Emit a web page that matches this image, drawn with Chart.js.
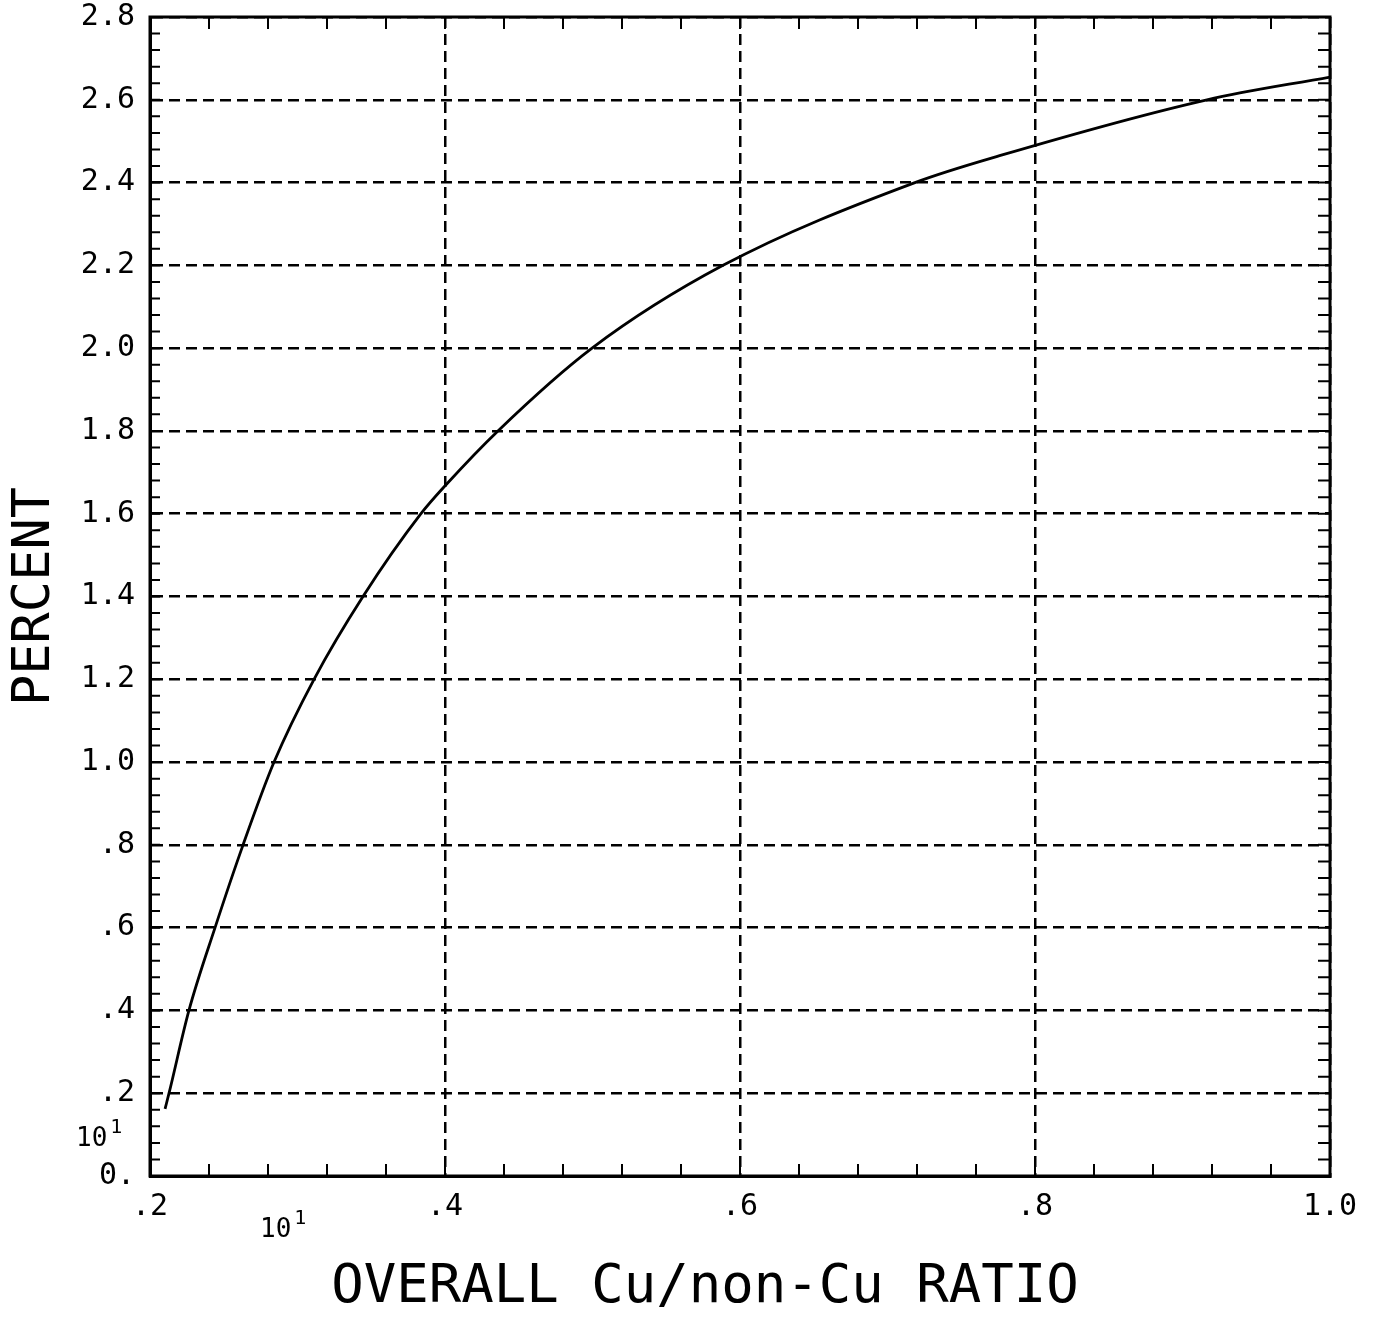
<!DOCTYPE html>
<html>
<head>
<meta charset="utf-8">
<title>Percent vs overall Cu/non-Cu ratio</title>
<script src="https://cdn.jsdelivr.net/npm/chart.js@4.4.1/dist/chart.umd.min.js"></script>
<style>
    html, body { margin: 0; padding: 0; background: #fff; }
    #wrap { width: 1374px; height: 1319px; position: relative; }
</style>
</head>
<body>
<div id="wrap"><canvas id="chart"></canvas></div>
<script>
// Curve (x in units of 10^1, y in percent)
const ratioValues   = [0.2102, 0.2129, 0.2264, 0.2441, 0.2631, 0.2841, 0.3112, 0.3444, 0.3837, 0.4007, 0.4359, 0.4997, 0.5885, 0.7186, 0.776, 0.9166, 1.0];
const percentValues = [0.162,  0.20,   0.40,   0.60,   0.80,   1.00,   1.20,   1.40,   1.60,   1.670,  1.80,   2.00,   2.20,   2.40,   2.465, 2.60,   2.655];

const xMin = 0.2, xMax = 1.0, xStep = 0.2, xMinorStep = 0.04;
const yMin = 0, yMax = 2.8, yStep = 0.2, yMinorStep = 0.04;

const xTitle = 'OVERALL Cu/non-Cu RATIO';
const yTitle = 'PERCENT';
const exponentBase = '10';
const exponentPower = '1';

const monoFont = '"DejaVu Sans Mono", "Liberation Mono", monospace';

// Plotter style labels: drop the leading zero, keep "0." for zero
const plotterLabel = (v) => {
    const s = Number(v).toFixed(1);
    if (s === '0.0') return '0.';
    return s.startsWith('0.') ? s.slice(1) : s;
};

// Frame, minor ticks, x title and the 10^1 multipliers
const plotterDecor = {
    id: 'plotterDecor',
    afterDraw(chart) {
        const ctx = chart.ctx;
        const area = chart.chartArea;
        const xs = chart.scales.x;
        const ys = chart.scales.y;
        ctx.save();
        ctx.strokeStyle = '#000';
        ctx.lineWidth = 3;
        ctx.strokeRect(area.left, area.top, area.right - area.left, area.bottom - area.top);

        ctx.lineWidth = 2;
        ctx.beginPath();
        for (let v = xMin; v <= xMax + 1e-9; v += xMinorStep) {
            const px = xs.getPixelForValue(v);
            ctx.moveTo(px, area.bottom);
            ctx.lineTo(px, area.bottom - 12);
            ctx.moveTo(px, area.top);
            ctx.lineTo(px, area.top + 12);
        }
        for (let v = yMin; v <= yMax + 1e-9; v += yMinorStep) {
            const py = ys.getPixelForValue(v);
            ctx.moveTo(area.left, py);
            ctx.lineTo(area.left + 10, py);
            ctx.moveTo(area.right, py);
            ctx.lineTo(area.right - 12, py);
        }
        ctx.stroke();

        ctx.fillStyle = '#000';
        ctx.textAlign = 'center';
        ctx.textBaseline = 'middle';
        ctx.font = '54px ' + monoFont;
        ctx.fillText(xTitle, 705, 1288);

        // 10^1 near the y axis and below the x axis
        const drawPower = (x, y) => {
            ctx.textAlign = 'left';
            ctx.textBaseline = 'alphabetic';
            ctx.font = '26px ' + monoFont;
            ctx.fillText(exponentBase, x, y);
            const w = ctx.measureText(exponentBase).width;
            ctx.font = '20px ' + monoFont;
            ctx.fillText(exponentPower, x + w + 3, y - 13);
        };
        drawPower(76, 1146);
        drawPower(260, 1237);
        ctx.restore();
    }
};

const ctx = document.getElementById('chart').getContext('2d');
new Chart(ctx, {
    type: 'line',
    data: {
        datasets: [{
            label: 'Percent',
            data: ratioValues.map((x, i) => ({ x: x, y: percentValues[i] })),
            borderColor: '#000',
            borderWidth: 2.8,
            pointRadius: 0,
            fill: false,
            cubicInterpolationMode: 'monotone'
        }]
    },
    options: {
        responsive: true,
        maintainAspectRatio: false,
        animation: false,
        layout: { padding: { top: 17, right: 44, left: 0, bottom: 0 } },
        plugins: {
            legend: { display: false },
            tooltip: { enabled: false }
        },
        scales: {
            x: {
                type: 'linear',
                min: xMin,
                max: xMax,
                afterFit: (scale) => {
                    scale.height = 143;
                    scale.paddingLeft = 0;
                    scale.paddingRight = 0;
                },
                ticks: {
                    stepSize: xStep,
                    color: '#000',
                    padding: 13,
                    maxRotation: 0,
                    font: { family: monoFont, size: 30 },
                    callback: (v) => plotterLabel(v)
                },
                grid: { color: '#000', lineWidth: 2.5, drawTicks: false },
                border: { color: '#000', width: 3, dash: [11, 6] }
            },
            y: {
                type: 'linear',
                min: yMin,
                max: yMax,
                afterFit: (scale) => {
                    scale.width = 150;
                    scale.paddingTop = 0;
                    scale.paddingBottom = 0;
                },
                ticks: {
                    stepSize: yStep,
                    color: '#000',
                    padding: 15,
                    font: { family: monoFont, size: 30 },
                    callback: (v) => plotterLabel(v)
                },
                grid: { color: '#000', lineWidth: 2.5, drawTicks: false },
                border: { color: '#000', width: 3, dash: [11, 6] },
                title: {
                    display: true,
                    text: yTitle,
                    color: '#000',
                    font: { family: monoFont, size: 52, lineHeight: 1 },
                    padding: { top: 9, bottom: 0 }
                }
            }
        }
    },
    plugins: [plotterDecor]
});
</script>
</body>
</html>
